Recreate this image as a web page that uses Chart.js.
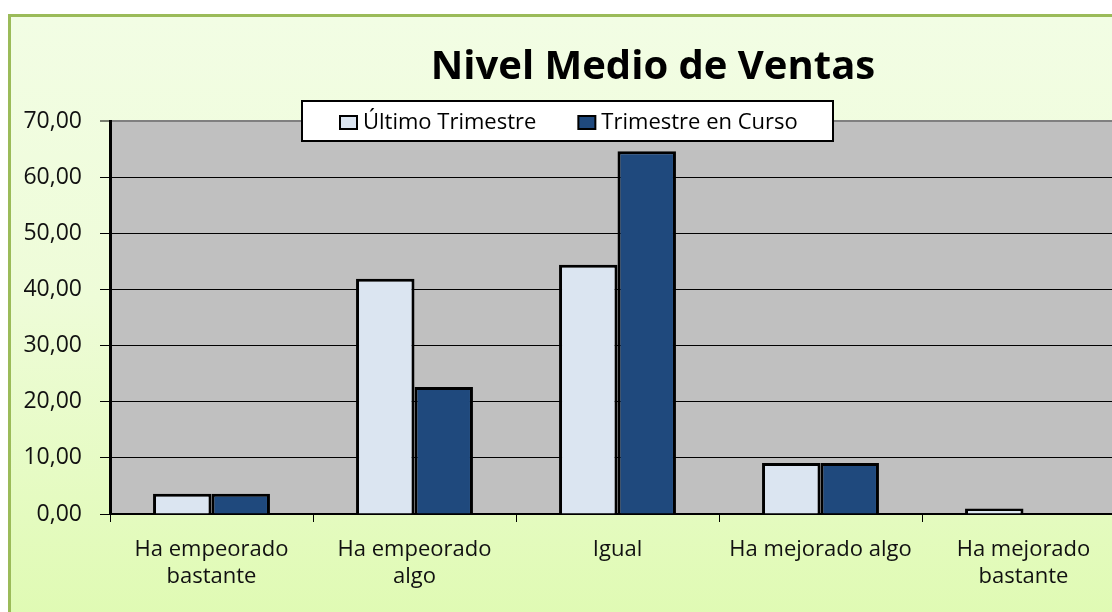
<!DOCTYPE html>
<html>
<head>
<meta charset="utf-8">
<script src="https://cdn.jsdelivr.net/npm/chart.js@4"></script>
<style>
  html, body { margin: 0; padding: 0; width: 1112px; height: 612px; overflow: hidden; background: #fff; }
  #frame {
    position: absolute; left: 8px; top: 14px; width: 1200px; height: 700px;
    border-left: 3px solid #9bbb59; border-top: 3px solid #9bbb59;
    background: linear-gradient(to bottom, #f2fde4 0%, #eefcd8 40%, #dbfaa8 100%);
  }
  #wrap { position: absolute; left: 0; top: 0; width: 1140px; height: 612px; }
</style>
</head>
<body>
<div id="frame"></div>
<div id="wrap"><canvas id="chart"></canvas></div>
<script>
// chart data
const categories = [
  ['Ha empeorado', 'bastante'],
  ['Ha empeorado', 'algo'],
  'Igual',
  'Ha mejorado algo',
  ['Ha mejorado', 'bastante']
];
const ultimoTrimestre = [3.6, 41.9, 44.4, 9.1, 1.0];
const trimestreEnCurso = [3.6, 22.6, 64.6, 9.1, 0];
const seriesNames = ['Último Trimestre', 'Trimestre en Curso'];
const seriesColors = ['#dbe5f1', '#1f497d'];
const yTicks = { min: 0, max: 70, step: 10 };
const titleText = 'Nivel Medio de Ventas';

const fontFamily = '"Open Sans", "Liberation Sans", sans-serif';

// grey plot background
const plotBackground = {
  id: 'plotBackground',
  beforeDraw(chart) {
    const { ctx, chartArea: a } = chart;
    ctx.save();
    ctx.fillStyle = '#c0c0c0';
    ctx.fillRect(a.left, a.top, a.right - a.left, a.bottom - a.top);
    ctx.restore();
  }
};

// title + boxed legend, drawn like the spreadsheet chart
const titleAndLegend = {
  id: 'titleAndLegend',
  afterDraw(chart) {
    const ctx = chart.ctx;
    ctx.save();
    ctx.fillStyle = '#000';
    ctx.font = 'bold 40px ' + fontFamily;
    ctx.textAlign = 'center';
    ctx.textBaseline = 'alphabetic';
    ctx.fillText(titleText, 653, 79);

    // legend box
    const box = { x: 302, y: 101, w: 531, h: 40 };
    ctx.fillStyle = '#fff';
    ctx.fillRect(box.x, box.y, box.w, box.h);
    ctx.strokeStyle = '#000';
    ctx.lineWidth = 2;
    ctx.strokeRect(box.x, box.y, box.w, box.h);

    ctx.font = '22px ' + fontFamily;
    ctx.textAlign = 'left';
    let x = box.x + 38;
    chart.data.datasets.forEach(ds => {
      ctx.fillStyle = ds.backgroundColor;
      ctx.fillRect(x, 116, 17, 13);
      ctx.lineWidth = 2;
      ctx.strokeStyle = '#000';
      ctx.strokeRect(x, 116, 17, 13);
      ctx.fillStyle = '#000';
      ctx.fillText(ds.label, x + 23, 129);
      x += 23 + ctx.measureText(ds.label).width + 42;
    });
    ctx.restore();
  }
};

function initChart() {
  const ctx = document.getElementById('chart').getContext('2d');
  new Chart(ctx, {
    type: 'bar',
    data: {
      labels: categories,
      datasets: [
        { label: seriesNames[0], data: ultimoTrimestre, backgroundColor: seriesColors[0] },
        { label: seriesNames[1], data: trimestreEnCurso, backgroundColor: seriesColors[1] }
      ]
    },
    options: {
      responsive: true,
      maintainAspectRatio: false,
      animation: false,
      layout: { padding: { top: 121, right: 15, left: 0, bottom: 0 } },
      datasets: {
        bar: {
          borderColor: '#000',
          borderWidth: 3,
          categoryPercentage: 0.576,
          barPercentage: 1.0
        }
      },
      plugins: {
        legend: { display: false },
        title: { display: false },
        tooltip: { enabled: false }
      },
      scales: {
        x: {
          afterFit: scale => { scale.height = 98; },
          grid: {
            drawOnChartArea: false,
            tickLength: 8,
            tickColor: '#000',
            tickWidth: 1
          },
          border: { color: '#000', width: 2 },
          ticks: {
            color: '#111',
            padding: 15,
            maxRotation: 0,
            autoSkip: false,
            font: { family: fontFamily, size: 22, lineHeight: 1.2 }
          }
        },
        y: {
          min: yTicks.min,
          max: yTicks.max,
          afterFit: scale => { scale.width = 110; },
          grid: {
            color: c => (c.tick && c.tick.value === yTicks.max ? '#808080' : '#000'),
            lineWidth: c => (c.tick && c.tick.value === yTicks.max ? 2 : 1),
            tickLength: 10,
            tickColor: '#000',
            tickWidth: 1
          },
          border: { color: '#000', width: 3 },
          ticks: {
            stepSize: yTicks.step,
            padding: 18,
            color: '#111',
            font: { family: fontFamily, size: 23 },
            callback: v => v.toFixed(2).replace('.', ',')
          }
        }
      }
    },
    plugins: [plotBackground, titleAndLegend]
  });
}

document.addEventListener('DOMContentLoaded', initChart);
</script>
</body>
</html>
